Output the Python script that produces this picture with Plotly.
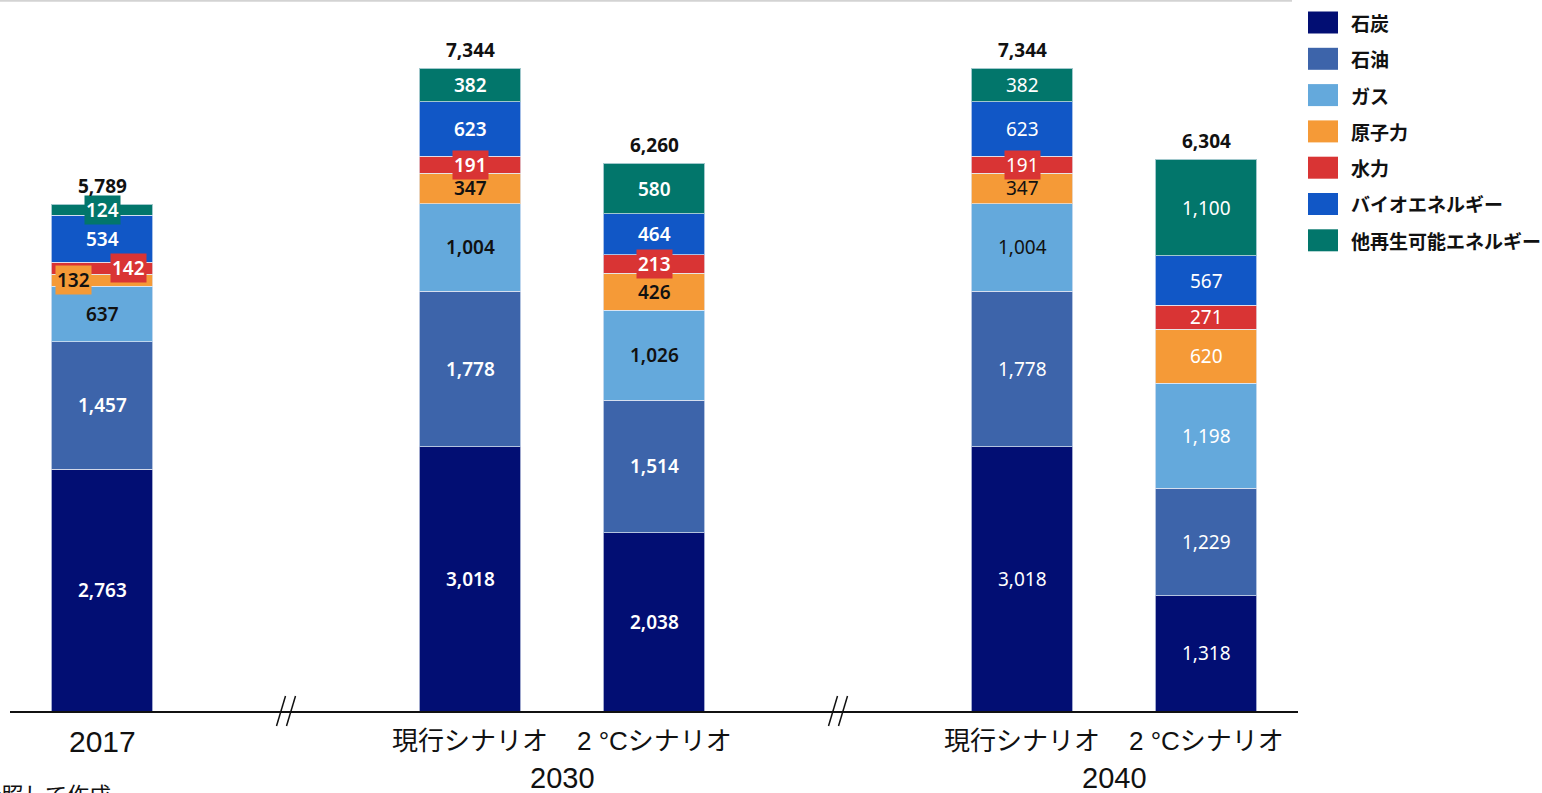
import plotly.graph_objects as go

# ---------------- data ----------------
bar_labels = ["2017", "現行シナリオ", "2 °Cシナリオ", "現行シナリオ", "2 °Cシナリオ"]
group_labels = ["2030", "2040"]
series_names = ["石炭", "石油", "ガス", "原子力", "水力", "バイオエネルギー", "他再生可能エネルギー"]
coal = [2763, 3018, 2038, 3018, 1318]
oil = [1457, 1778, 1514, 1778, 1229]
gas = [637, 1004, 1026, 1004, 1198]
nuclear = [132, 347, 426, 347, 620]
hydro = [142, 191, 213, 191, 271]
bio = [534, 623, 464, 623, 567]
other_re = [124, 382, 580, 382, 1100]
totals = [5789, 7344, 6260, 7344, 6304]

# ---------------- layout / style ----------------
slots = [0, 2, 3, 5, 6]           # bar slot positions (gaps for axis breaks)
group_slots = [2.5, 5.5]
break_slots = [1, 4]
colors = ["#020E73", "#3D64AA", "#64A9DC", "#F59A37", "#D93434", "#1157C6", "#02766B"]
series = [coal, oil, gas, nuclear, hydro, bio, other_re]
bold_bars = [True, True, True, False, False]
def text_color(si, bi):
    if si in (2, 3) and bi != 4:
        return "#111111"
    return "white"
label_dx = {(0, 3): -29, (0, 4): 26}

W, H = 1542, 793
PL, PR, PT, PB_ = 10, 244, 11, 82
PW = W - PL - PR
PH = H - PT - PB_
def px_x(px):
    return (px - PL) / PW
def px_y(py):
    return (H - PB_ - py) / PH

NUM_FONT = "Noto Sans, Open Sans, sans-serif"
JP_FONT = "Liberation Sans, Noto Sans CJK JP, sans-serif"

fig = go.Figure()
for si, (name, vals) in enumerate(zip(series_names, series)):
    fig.add_trace(go.Bar(
        x=slots, y=vals, name=name, width=0.553,
        marker=dict(color=colors[si], line=dict(color="rgba(230,235,245,0.7)", width=1)),
        showlegend=False, hoverinfo="skip",
    ))

annotations = []
for bi in range(len(slots)):
    base = 0
    for si, vals in enumerate(series):
        v = vals[bi]
        mid = base + v / 2
        base += v
        small = v < 230 and not (si == 4 and bi == 4)
        ann = dict(
            x=slots[bi], y=mid, xref="x", yref="y",
            text=f"{v:,}", showarrow=False,
            font=dict(family=NUM_FONT, size=19, color=text_color(si, bi),
                      weight=600 if bold_bars[bi] else 400),
            xshift=label_dx.get((bi, si), 0),
        )
        if small:
            ann.update(bgcolor=colors[si], borderpad=1)
        annotations.append(ann)
    annotations.append(dict(
        x=slots[bi], y=totals[bi], xref="x", yref="y", text=f"{totals[bi]:,}",
        showarrow=False, yshift=18,
        font=dict(family=NUM_FONT, size=19, color="#111111", weight=700),
    ))

for bi, lab in enumerate(bar_labels):
    size = 30 if lab.isdigit() else 26
    annotations.append(dict(
        x=slots[bi], y=0, xref="x", yref="paper", text=lab, showarrow=False,
        yanchor="middle", yshift=-30,
        font=dict(family=JP_FONT, size=size, color="#111111"),
    ))
for gi, lab in enumerate(group_labels):
    annotations.append(dict(
        x=group_slots[gi], y=0, xref="x", yref="paper", text=lab, showarrow=False,
        yanchor="middle", yshift=-67,
        font=dict(family=JP_FONT, size=29, color="#111111"),
    ))

# source note (partly cut off at bottom-left, as in the reference)
annotations.append(dict(
    x=px_x(113), y=px_y(775), xref="paper", yref="paper", xanchor="right", yanchor="top",
    text="IEA「World Energy Outlook 2018」を参照して作成", showarrow=False,
    font=dict(family="Noto Sans CJK JP", size=22, color="#111111"),
))

shapes = []
shapes.append(dict(type="line", xref="paper", yref="paper",
                   x0=px_x(0), x1=px_x(1292), y0=px_y(0.8), y1=px_y(0.8),
                   line=dict(color="#D3D3D3", width=2)))
unit = PW / 7.0
for b in break_slots:
    for off in (-5, 5):
        shapes.append(dict(type="line", xref="x", yref="paper",
                           x0=b + (off - 4.5) / unit, x1=b + (off + 4.5) / unit,
                           y0=px_y(726), y1=px_y(696),
                           line=dict(color="#111111", width=1.5)))

for si, name in enumerate(series_names):
    cy = 22.5 + 36.3 * si
    shapes.append(dict(type="rect", xref="paper", yref="paper",
                       x0=px_x(1308), x1=px_x(1338), y0=px_y(cy - 11), y1=px_y(cy + 11),
                       fillcolor=colors[si], line=dict(width=0)))
    annotations.append(dict(
        x=px_x(1349), y=px_y(cy), xref="paper", yref="paper", xanchor="left", yanchor="middle",
        text=name, showarrow=False,
        font=dict(family="Noto Sans CJK JP", size=19, color="#111111", weight=700),
    ))

fig.update_layout(
    width=W, height=H,
    margin=dict(l=PL, r=PR, t=PT, b=PB_),
    paper_bgcolor="white", plot_bgcolor="white",
    barmode="stack",
    xaxis=dict(range=[-0.5, 6.5], showticklabels=False, ticks="", showgrid=False,
               zeroline=False, showline=True, linecolor="#111111", linewidth=1.5, fixedrange=True),
    yaxis=dict(range=[0, 8000], showticklabels=False, showgrid=False, zeroline=False,
               showline=False, fixedrange=True),
    annotations=annotations, shapes=shapes,
)

fig.write_html("out.html")
